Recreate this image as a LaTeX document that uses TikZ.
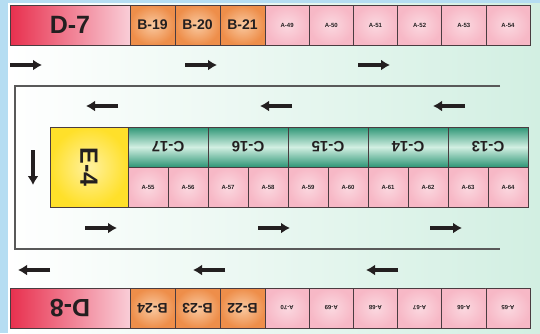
\documentclass[tikz,border=0pt]{standalone}
\usepackage{fontspec}
\setmainfont{Liberation Sans}
\usetikzlibrary{arrows.meta,positioning}
\definecolor{BayRed}{HTML}{E8304E}
\definecolor{BayPink}{HTML}{F7B8C6}
\definecolor{BayOrange}{HTML}{EE8E4A}
\definecolor{BayPeach}{HTML}{F9C9A0}
\definecolor{BayTeal}{HTML}{2E9676}
\definecolor{BayMint}{HTML}{D2EFE2}
\definecolor{BayYellow}{HTML}{FFE02A}
\definecolor{BaySky}{HTML}{B5DDF2}
\definecolor{BayLine}{HTML}{4A3C40}
\definecolor{BayInk}{HTML}{231F20}
\tikzset{
  dbox/.style={draw=BayLine, semithick, left color=BayRed, right color=BayPink!70,
    text=BayInk, minimum width=120pt, minimum height=40pt, inner sep=0pt,
    font=\bfseries\fontsize{25}{26}\selectfont},
  bbox/.style={draw=BayLine, semithick, inner color=BayPeach, outer color=BayOrange,
    text=BayInk, minimum width=45pt, minimum height=40pt, inner sep=0pt,
    font=\bfseries\fontsize{14}{15}\selectfont},
  abox/.style={draw=BayLine, semithick, inner color=BayPink!55, outer color=BayPink,
    text=BayInk, minimum width=44.17pt, minimum height=40pt, inner sep=0pt,
    font=\bfseries\fontsize{6}{7}\selectfont},
  amid/.style={abox, minimum width=40pt},
  cbox/.style={draw=BayLine, semithick, top color=BayTeal, bottom color=BayTeal,
    middle color=BayMint, text=BayInk, minimum width=80pt, minimum height=40pt,
    inner sep=0pt, font=\bfseries\fontsize{15}{16}\selectfont},
  ebox/.style={draw=BayLine, semithick, inner color=BayYellow!45, outer color=BayYellow,
    text=BayInk, minimum width=78pt, minimum height=80pt, inner sep=0pt,
    font=\bfseries\fontsize{25}{26}\selectfont},
  flow/.style={-{Latex[length=9pt,width=11pt]}, line width=4pt, draw=BayInk},
  laneline/.style={draw=black!65, line width=1.3pt}
}
\begin{document}
\begin{tikzpicture}[x=1pt,y=-1pt]
  \useasboundingbox (0,0) rectangle (540,333);
  % backdrop
  \fill[BaySky] (0,0) rectangle (540,333);
  \fill[left color=white, right color=BayMint] (8,3) rectangle (540,333);
  \draw[laneline] (500,86) -- (15,86) -- (15,249) -- (500,249);

  % top row
  \node[dbox] (d7) at (70,25) {D-7};
  \foreach \n [count=\i] in {19,20,21}
    \node[bbox] (b\n) at ({107.5+45*\i},25) {B-\n};
  \foreach \n [count=\i] in {49,...,54}
    \node[abox] (a\n) at ({265+44.17*(\i-0.5)},25) {A-\n};

  % middle block
  \node[ebox] (e4) at (89,167) {\rotatebox{-90}{E-4}};
  \foreach \n [count=\i] in {17,16,15,14,13}
    \node[cbox] (c\n) at ({128+80*(\i-0.5)},147) {\rotatebox{180}{C-\n}};
  \foreach \n [count=\i] in {55,...,64}
    \node[amid] (a\n) at ({128+40*(\i-0.5)},187) {A-\n};

  % bottom row
  \node[dbox] (d8) at (70,308) {\rotatebox{180}{D-8}};
  \foreach \n [count=\i] in {24,23,22}
    \node[bbox] (b\n) at ({107.5+45*\i},308) {\rotatebox{180}{B-\n}};
  \foreach \n [count=\i] in {70,69,...,65}
    \node[abox] (a\n) at ({265+44.17*(\i-0.5)},308) {\rotatebox{180}{A-\n}};

  % traffic flow
  \foreach \x in {10,185,358}
    \draw[flow] (\x,65) -- ++(32,0);
  \foreach \x in {118,292,465}
    \draw[flow] (\x,106) -- ++(-32,0);
  \draw[flow] (33,150) -- (33,185);
  \foreach \x in {85,258,430}
    \draw[flow] (\x,228) -- ++(32,0);
  \foreach \x in {50,225,398}
    \draw[flow] (\x,270) -- ++(-32,0);
\end{tikzpicture}
\end{document}
